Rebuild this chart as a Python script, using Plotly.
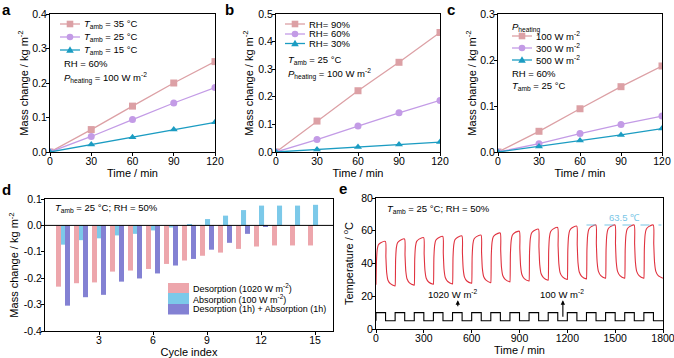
import plotly.graph_objects as go

W, H = 674, 358
FONT = "Liberation Sans, Arial, sans-serif"

# ---------------- data ----------------
time_min = [0, 30, 60, 90, 120]
a_35 = [0, 0.065, 0.133, 0.200, 0.262]
a_25 = [0, 0.045, 0.094, 0.142, 0.187]
a_15 = [0, 0.022, 0.043, 0.065, 0.086]
b_90 = [0, 0.112, 0.222, 0.325, 0.433]
b_60 = [0, 0.045, 0.094, 0.142, 0.187]
b_30 = [0, 0.009, 0.018, 0.027, 0.036]
c_100 = [0, 0.045, 0.094, 0.142, 0.187]
c_300 = [0, 0.018, 0.040, 0.060, 0.078]
c_500 = [0, 0.012, 0.025, 0.037, 0.051]

cycles = list(range(1, 16))
desorption = [-0.232, -0.219, -0.216, -0.175, -0.171, -0.165, -0.146, -0.133,
              -0.115, -0.103, -0.089, -0.080, -0.076, -0.076, -0.076]
absorption = [-0.073, -0.056, -0.049, -0.038, -0.032, -0.019, -0.008, 0.005,
              0.024, 0.037, 0.058, 0.075, 0.075, 0.075, 0.078]
combined = [-0.304, -0.272, -0.263, -0.213, -0.201, -0.182, -0.152, -0.127,
            -0.092, -0.066, -0.032, -0.006, None, None, None]

# temperature readings within each 120-min cycle (minutes after cycle start)
cycle_offsets = [0, 3, 8, 15, 30, 59, 62, 67, 75, 90, 119]
temp_cycles = [
    [27.0, 41.6, 48.7, 51.4, 52.7, 53.5, 44.0, 34.5, 29.8, 27.7, 26.3],
    [26.3, 42.1, 49.8, 52.7, 54.1, 55.0, 45.1, 35.3, 30.5, 28.2, 26.8],
    [26.8, 42.8, 50.6, 53.5, 54.9, 55.8, 45.8, 35.9, 31.0, 28.7, 27.3],
    [27.3, 43.4, 51.2, 54.2, 55.6, 56.5, 46.4, 36.2, 31.3, 29.0, 27.5],
    [27.5, 43.6, 51.5, 54.5, 55.9, 56.8, 46.7, 36.6, 31.7, 29.3, 27.9],
    [27.9, 44.1, 52.0, 54.9, 56.4, 57.3, 47.2, 37.0, 32.1, 29.8, 28.3],
    [28.3, 45.0, 53.1, 56.2, 57.7, 58.6, 48.2, 37.7, 32.7, 30.3, 28.8],
    [28.8, 45.8, 54.1, 57.2, 58.8, 59.7, 49.1, 38.4, 33.3, 30.8, 29.3],
    [29.3, 46.7, 55.3, 58.5, 60.0, 61.0, 50.1, 39.2, 33.9, 31.4, 29.8],
    [29.8, 47.5, 56.2, 59.4, 61.0, 62.0, 50.9, 39.7, 34.3, 31.8, 30.2],
    [30.2, 48.1, 56.9, 60.2, 61.8, 62.8, 51.5, 40.3, 34.8, 32.2, 30.6],
    [30.6, 48.7, 57.6, 60.9, 62.5, 63.5, 52.1, 40.8, 35.2, 32.6, 31.0],
    [31.0, 48.9, 57.7, 60.9, 62.5, 63.5, 52.1, 40.8, 35.2, 32.6, 31.0],
    [31.0, 48.9, 57.7, 60.9, 62.5, 63.5, 52.1, 40.8, 35.2, 32.6, 31.0],
    [31.0, 48.9, 57.7, 60.9, 62.5, 63.5, 52.1, 40.8, 35.2, 32.6, 31.0],
]
cycle_length = 120
# heating schedule schematic (switch times in min and drawn level)
switch_times = [0] + list(range(0, 1801, 60))
switch_levels = [5] + [10, 5] * 15 + [5]
e_ticks = [0, 300, 600, 900, 1200, 1500, 1800]

e_time, e_temp = [], []
for k, temps in enumerate(temp_cycles):
    for off, t in zip(cycle_offsets, temps):
        e_time.append(k * cycle_length + off)
        e_temp.append(t)

# ---------------- style ----------------
PINK = "#dca0a5"
PURP = "#c39be6"
TEAL = "#1b9cc2"
BAR_PINK = "#eda6ac"
BAR_BLUE = "#7cc9e9"
BAR_PURP = "#8381d3"
RED = "#e0323f"
LBLUE = "#79c6e6"


def px(x, y):
    return x / W, 1 - y / H


def dom_x(a, b):
    return [a / W, b / W]


def dom_y(top, bottom):
    return [1 - bottom / H, 1 - top / H]


fig = go.Figure()


def line_trace(x, y, color, symbol, xa, ya):
    fig.add_trace(go.Scatter(
        x=x, y=y, mode="lines+markers", xaxis=xa, yaxis=ya, showlegend=False,
        line=dict(color=color, width=1.3),
        marker=dict(symbol=symbol, size=7, color=color)))


line_trace(time_min, a_35, PINK, "square", "x", "y")
line_trace(time_min, a_25, PURP, "circle", "x", "y")
line_trace(time_min, a_15, TEAL, "triangle-up", "x", "y")
line_trace(time_min, b_90, PINK, "square", "x2", "y2")
line_trace(time_min, b_60, PURP, "circle", "x2", "y2")
line_trace(time_min, b_30, TEAL, "triangle-up", "x2", "y2")
line_trace(time_min, c_100, PINK, "square", "x3", "y3")
line_trace(time_min, c_300, PURP, "circle", "x3", "y3")
line_trace(time_min, c_500, TEAL, "triangle-up", "x3", "y3")

bw = 0.28
fig.add_trace(go.Bar(x=cycles, y=desorption, width=bw, offset=-0.39, marker_color=BAR_PINK,
                     marker_line_width=0, xaxis="x4", yaxis="y4", showlegend=False))
fig.add_trace(go.Bar(x=cycles, y=absorption, width=bw, offset=-0.11, marker_color=BAR_BLUE,
                     marker_line_width=0, xaxis="x4", yaxis="y4", showlegend=False))
fig.add_trace(go.Bar(x=cycles, y=combined, width=bw, offset=0.11, marker_color=BAR_PURP,
                     marker_line_width=0, xaxis="x4", yaxis="y4", showlegend=False))

fig.add_trace(go.Scatter(x=e_time, y=e_temp, mode="lines", xaxis="x5", yaxis="y5",
                         line=dict(color=RED, width=1.1, shape="spline", smoothing=0.6),
                         showlegend=False))
fig.add_trace(go.Scatter(x=switch_times, y=switch_levels, mode="lines", xaxis="x5", yaxis="y5",
                         line=dict(color="black", width=1.1, shape="hv"), showlegend=False))

axis_common = dict(showline=True, linecolor="black", linewidth=1, mirror=True,
                   ticks="outside", ticklen=3, tickwidth=1, tickcolor="black",
                   showgrid=False, zeroline=False, automargin=False,
                   ticklabeloverflow="allow",
                   tickfont=dict(size=10.5, color="black", family=FONT))
xcommon = dict(ticklabelstandoff=-4, **axis_common)
ycommon = dict(ticklabelstandoff=-3, **axis_common)
title_font = dict(size=11, color="black", family=FONT)

yt = "Mass change / kg m<sup>-2</sup>"
top_y = dom_y(14, 152)
fig.update_layout(
    template="none",
    xaxis=dict(domain=dom_x(50, 215), range=[0, 120], tickvals=time_min, anchor="y",
               title=dict(text="Time / min", font=title_font, standoff=0), **xcommon),
    yaxis=dict(domain=top_y, range=[0, 0.4], dtick=0.1, tickformat=".1f", anchor="x",
               title=dict(text=yt, font=title_font, standoff=1), **ycommon),
    xaxis2=dict(domain=dom_x(276, 440), range=[0, 120], tickvals=time_min, anchor="y2",
                title=dict(text="Time / min", font=title_font, standoff=0), **xcommon),
    yaxis2=dict(domain=top_y, range=[0, 0.5], dtick=0.1, tickformat=".1f", anchor="x2",
                title=dict(text=yt, font=title_font, standoff=2), **ycommon),
    xaxis3=dict(domain=dom_x(498, 662), range=[0, 120], tickvals=time_min, anchor="y3",
                title=dict(text="Time / min", font=title_font, standoff=0), **xcommon),
    yaxis3=dict(domain=top_y, range=[0, 0.3], dtick=0.1, tickformat=".1f", anchor="x3",
                title=dict(text=yt, font=title_font, standoff=1), **ycommon),
    xaxis4=dict(domain=dom_x(45, 333), range=[0, 16], tickvals=[3, 6, 9, 12, 15], anchor="y4",
                title=dict(text="Cycle index", font=title_font, standoff=0), **xcommon),
    yaxis4=dict(domain=dom_y(199, 331), range=[-0.4, 0.1],
                tickvals=[-0.4, -0.3, -0.2, -0.1, 0.0, 0.1],
                ticktext=["-0.4", "-0.3", "-0.2", "-0.1", "0.0", "0.1"], anchor="x4",
                title=dict(text=yt, font=title_font, standoff=2), **ycommon),
    xaxis5=dict(domain=dom_x(376, 663), range=[0, 1800], tickvals=e_ticks, anchor="y5",
                title=dict(text="Time / min", font=title_font, standoff=0), **xcommon),
    yaxis5=dict(domain=dom_y(198, 329), range=[0, 80], dtick=20, anchor="x5",
                title=dict(text="Temperature / <sup>o</sup>C", font=title_font, standoff=5), **ycommon),
    barmode="overlay",
    width=W, height=H,
    margin=dict(l=0, r=0, t=0, b=0),
    paper_bgcolor="white", plot_bgcolor="white",
    font=dict(family=FONT, color="black", size=10),
    showlegend=False,
)

shapes = []
annotations = []


def ptext(x, y, text, size=9.5, color="black", anchor="left", bold=False):
    xx, yy = px(x, y)
    if bold:
        text = "<b>" + text + "</b>"
    annotations.append(dict(x=xx, y=yy, xref="paper", yref="paper", text=text, showarrow=False,
                            xanchor=anchor, yanchor="middle",
                            font=dict(size=size, color=color, family=FONT)))


def legend_item(x0, x1, y, color, symbol, label, tx):
    a0, b0 = px(x0, y)
    a1, _ = px(x1, y)
    shapes.append(dict(type="line", xref="paper", yref="paper", x0=a0, x1=a1, y0=b0, y1=b0,
                       line=dict(color=color, width=1.3)))
    cx = (x0 + x1) / 2
    r = 3.3
    if symbol == "square":
        p0 = px(cx - r, y + r)
        p1 = px(cx + r, y - r)
        shapes.append(dict(type="rect", xref="paper", yref="paper", x0=p0[0], y0=p0[1], x1=p1[0], y1=p1[1],
                           fillcolor=color, line=dict(width=0)))
    elif symbol == "circle":
        p0 = px(cx - r, y + r)
        p1 = px(cx + r, y - r)
        shapes.append(dict(type="circle", xref="paper", yref="paper", x0=p0[0], y0=p0[1], x1=p1[0], y1=p1[1],
                           fillcolor=color, line=dict(width=0)))
    else:
        t = px(cx, y - 3.8)
        l = px(cx - 3.8, y + 2.8)
        rr = px(cx + 3.8, y + 2.8)
        shapes.append(dict(type="path", xref="paper", yref="paper",
                           path=f"M {l[0]} {l[1]} L {t[0]} {t[1]} L {rr[0]} {rr[1]} Z",
                           fillcolor=color, line=dict(width=0)))
    ptext(tx, y, label)


T_amb = "<i>T</i><sub>amb</sub>"
P_heat = "<i>P</i><sub>heating</sub>"

# panel a legend
legend_item(60, 80, 24, PINK, "square", T_amb + " = 35 °C", 82)
legend_item(60, 80, 37, PURP, "circle", T_amb + " = 25 °C", 82)
legend_item(60, 80, 50, TEAL, "triangle", T_amb + " = 15 °C", 82)
ptext(62, 63, "RH = 60%")
ptext(62, 78, P_heat + " = 100 W m<sup>-2</sup>")

# panel b legend
legend_item(285, 305, 24, PINK, "square", "RH= 90%", 307)
legend_item(285, 305, 34, PURP, "circle", "RH= 60%", 307)
legend_item(285, 305, 43.5, TEAL, "triangle", "RH= 30%", 307)
ptext(286, 60, T_amb + " = 25 °C")
ptext(286, 74, P_heat + " = 100 W m<sup>-2</sup>")

# panel c legend
ptext(510, 27, P_heat)
legend_item(512, 532, 36, PINK, "square", "100 W m<sup>-2</sup>", 534)
legend_item(512, 532, 48, PURP, "circle", "300 W m<sup>-2</sup>", 534)
legend_item(512, 532, 60, TEAL, "triangle", "500 W m<sup>-2</sup>", 534)
ptext(510, 73, "RH = 60%")
ptext(510, 86, T_amb + " = 25 °C")

# panel d
ptext(53, 208, T_amb + " = 25 °C; RH = 50%")
for (y0, y1, col, lab) in [(283, 293, BAR_PINK, "Desorption (1020 W m<sup>-2</sup>)"),
                           (293, 304, BAR_BLUE, "Absorption (100 W m<sup>-2</sup>)"),
                           (304, 314.5, BAR_PURP, "Desorption (1h) + Absorption (1h)")]:
    p0 = px(168, y1)
    p1 = px(189, y0)
    shapes.append(dict(type="rect", xref="paper", yref="paper", x0=p0[0], y0=p0[1], x1=p1[0], y1=p1[1],
                       fillcolor=col, line=dict(width=0)))
    ptext(191, (y0 + y1) / 2, lab, size=9)
shapes.append(dict(type="line", xref="x4 domain", yref="y4", x0=0, x1=1, y0=0, y1=0,
                   line=dict(color="black", width=1)))

# panel e
ptext(385, 209, T_amb + " = 25 °C; RH = 50%")
shapes.append(dict(type="line", xref="x5", yref="y5", x0=1320, x1=1790, y0=63.5, y1=63.5,
                   line=dict(color=LBLUE, width=1.2, dash="dash")))
annotations.append(dict(x=1560, y=68, xref="x5", yref="y5", text="63.5 ℃", showarrow=False,
                        font=dict(size=9.5, color=LBLUE, family=FONT)))
annotations.append(dict(x=486, y=21.5, xref="x5", yref="y5", text="1020 W m<sup>-2</sup>",
                        showarrow=False, font=dict(size=9.5, color="black", family=FONT)))
annotations.append(dict(x=1166, y=21.5, xref="x5", yref="y5", text="100 W m<sup>-2</sup>",
                        showarrow=False, font=dict(size=9.5, color="black", family=FONT)))
for (xa, y_from, y_to) in [(513, 13.0, 17.5), (1172, 6.5, 17.5)]:
    annotations.append(dict(x=xa, y=y_to, ax=xa, ay=y_from, xref="x5", yref="y5",
                            axref="x5", ayref="y5", text="", showarrow=True,
                            arrowhead=2, arrowsize=0.8, arrowwidth=1.1, arrowcolor="black"))

# panel labels
for (x, y, lab) in [(6, 9, "a"), (229, 9, "b"), (451, 9, "c"), (6, 189, "d"), (343, 188, "e")]:
    xx, yy = px(x, y)
    annotations.append(dict(x=xx, y=yy, xref="paper", yref="paper", text="<b>" + lab + "</b>",
                            showarrow=False, xanchor="center", yanchor="middle",
                            font=dict(size=15, color="black", family=FONT)))

fig.update_layout(shapes=shapes, annotations=annotations)
fig.write_html("out.html", config={"displayModeBar": False},
               post_script="document.body.style.margin='0';")
